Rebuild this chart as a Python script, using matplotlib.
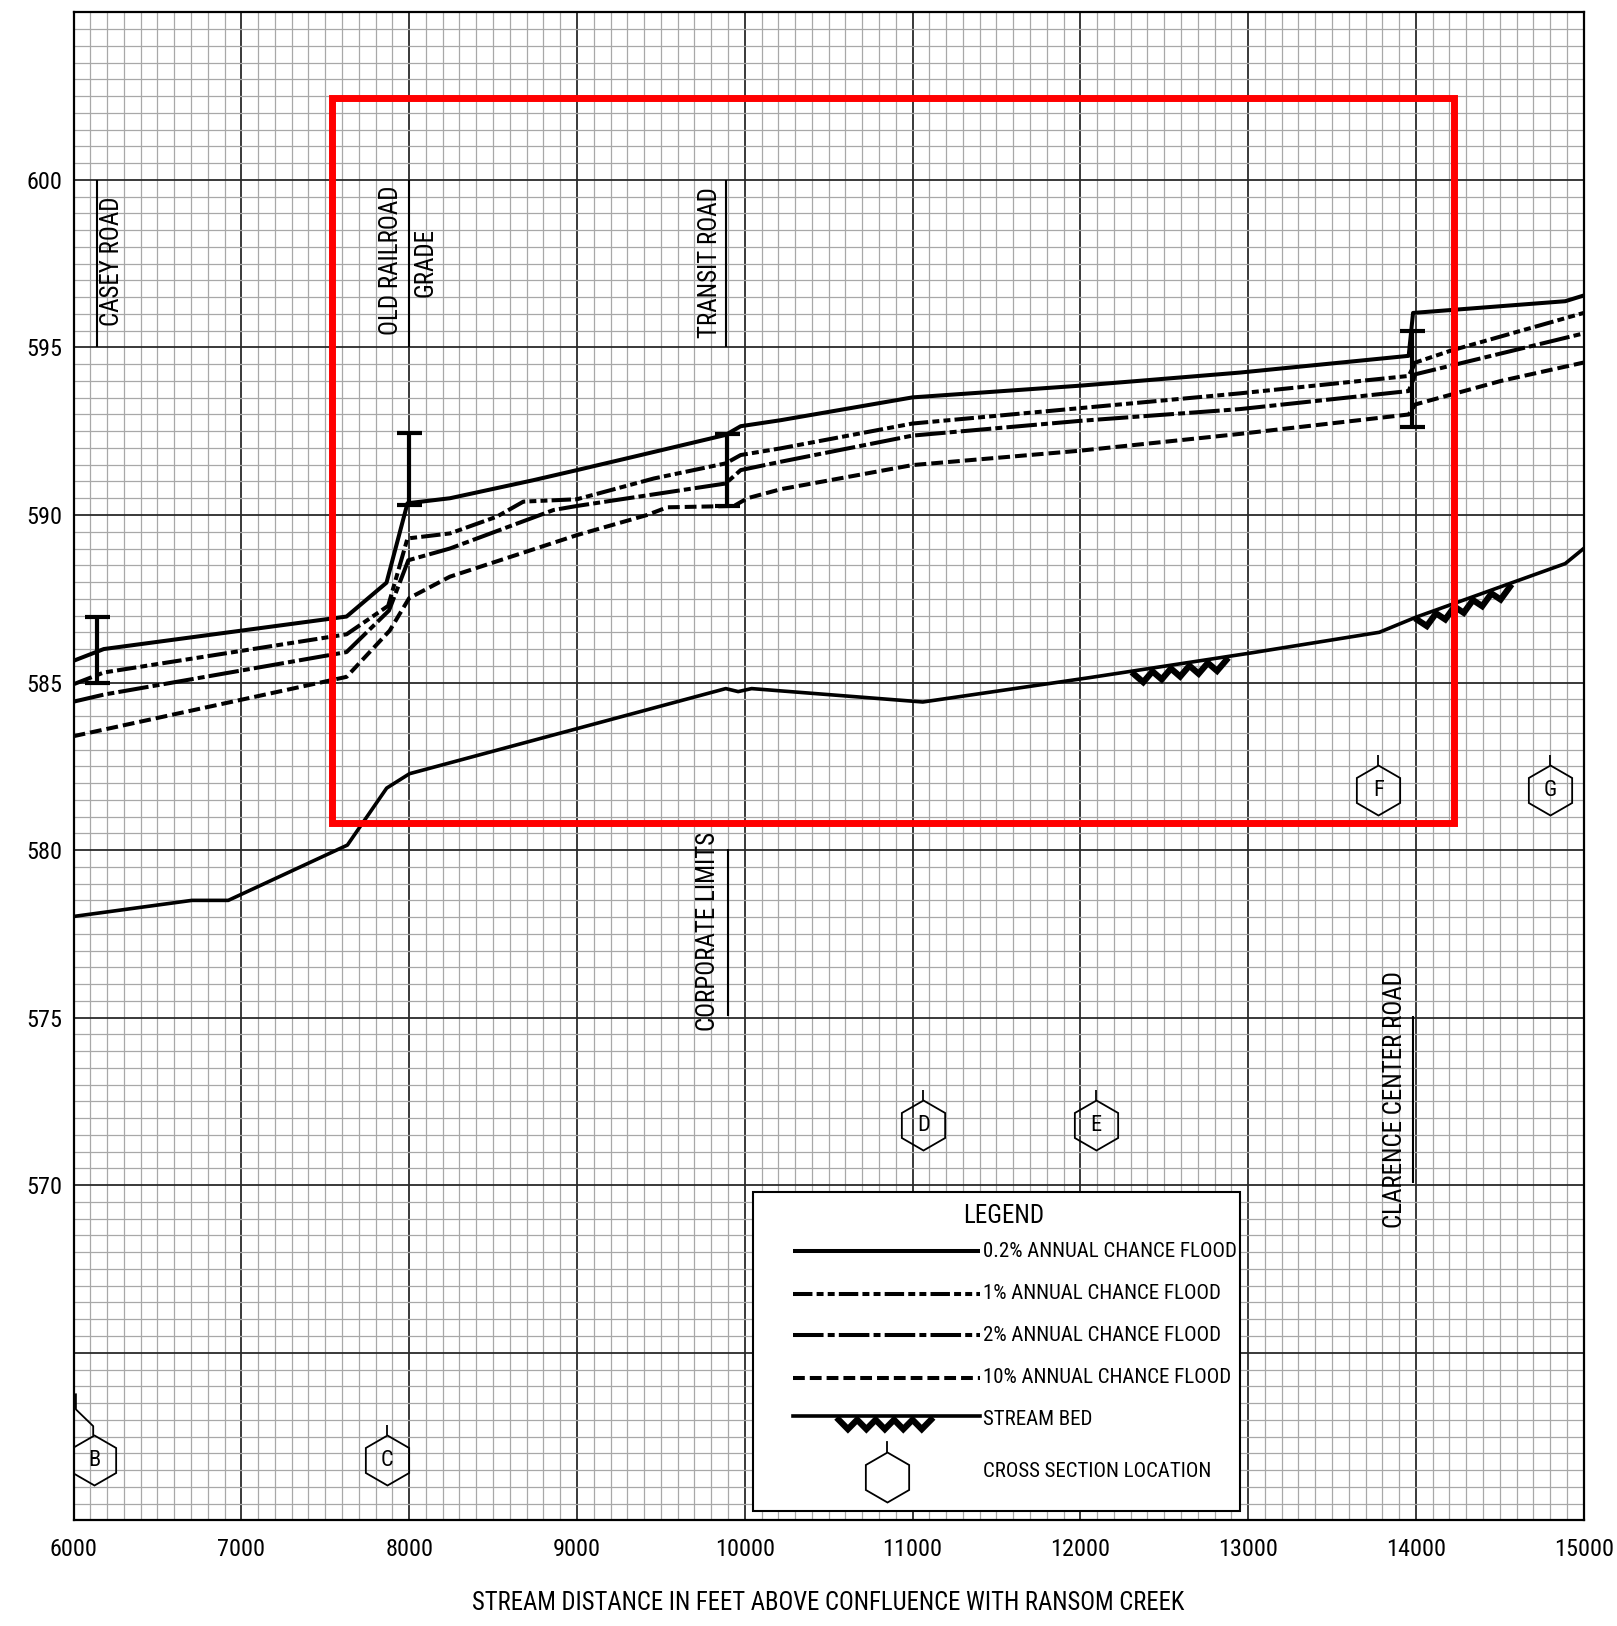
import numpy as np
import matplotlib.pyplot as plt
from matplotlib import font_manager
from matplotlib.patches import Rectangle

# condensed look of the original drawing: use a narrow face if there is one
installed = {f.name for f in font_manager.fontManager.ttflist}
fam = [f for f in ['Liberation Sans Narrow', 'Roboto Condensed', 'Liberation Sans'] if f in installed]
plt.rcParams['font.family'] = fam + ['DejaVu Sans']
plt.rcParams['lines.scale_dashes'] = False

# flood profiles: stream distance (ft) / water surface elevation (ft)
dist_02 = [6000, 6180, 7627, 7865, 7990, 8243, 8741, 9000, 9339, 9886, 9976, 10215,
           11000, 12000, 12950, 13957, 13983, 14890, 15000]
elev_02 = [585.65, 586.0, 586.97, 587.98, 590.35, 590.5, 591.04, 591.34, 591.74, 592.39,
           592.65, 592.83, 593.51, 593.86, 594.25, 594.75, 596.03, 596.38, 596.55]

dist_1 = [6000, 6180, 7627, 7875, 7990, 8243, 8522, 8681, 9000, 9458, 9886, 9976, 10215,
          11000, 12000, 12950, 13957, 13997, 14205, 15000]
elev_1 = [584.95, 585.3, 586.44, 587.29, 589.3, 589.45, 589.95, 590.4, 590.47, 591.09,
          591.54, 591.79, 591.99, 592.73, 593.19, 593.63, 594.15, 594.55, 594.9, 596.03]

dist_2 = [6000, 6180, 7627, 7880, 7995, 8243, 8861, 9000, 9886, 9976, 10215, 11000,
          12000, 12950, 13957, 13997, 15000]
elev_2 = [584.43, 584.64, 585.91, 587.15, 588.65, 589.0, 590.15, 590.27, 590.94, 591.34,
          591.59, 592.37, 592.81, 593.16, 593.7, 594.2, 595.42]

dist_10 = [6000, 7627, 7884, 8000, 8243, 9000, 9418, 9538, 9936, 10016, 10215, 11000,
           12000, 12950, 13957, 13997, 14506, 15000]
elev_10 = [583.4, 585.17, 586.55, 587.52, 588.16, 589.4, 590.0, 590.23, 590.27, 590.5,
           590.77, 591.49, 591.92, 592.42, 593.0, 593.3, 594.0, 594.55]

bed_dist = [6000, 6705, 6922, 7632, 7866, 8002, 9887, 9961, 10041, 11061, 12059, 13000,
            13782, 14000, 14890, 15000]
bed_elev = [578.02, 578.5, 578.5, 580.15, 581.85, 582.28, 584.82, 584.73, 584.82, 584.42,
            585.15, 585.87, 586.5, 586.95, 588.55, 589.0]
bed_hatch = [(12320, 12910), (14010, 14570)]

# structures (vertical bars)
bar_dist = [6137, 8000, 9895, 13977]
bar_low = [585.0, 590.3, 590.26, 592.63]
bar_high = [586.95, 592.45, 592.43, 595.5]

# road / limit labels
road_names = ['CASEY ROAD', 'OLD RAILROAD', 'GRADE', 'TRANSIT ROAD',
              'CORPORATE LIMITS', 'CLARENCE CENTER ROAD']
road_text_x = [6229, 7891, 8095, 9794, 9782, 13873]
road_text_y = [597.56, 597.59, 597.54, 597.54, 577.58, 572.57]
road_line_x = [6137, 8000, 9887, 9900, 13984]
road_line_lo = [595, 595, 595, 575.05, 570.07]
road_line_hi = [600, 600, 600, 580.03, 575.04]

# cross section locations
xs_letters = ['B', 'C', 'D', 'E', 'F', 'G']
xs_dist = [6121, 7869, 11065, 12092, 13775, 14800]
xs_elev = [561.79, 561.79, 571.79, 571.79, 581.79, 581.79]
b_leader_x = [6014, 6014, 6117, 6117]
b_leader_y = [563.76, 563.31, 562.81, 562.55]

# highlighted region
box_x = [7542, 14230]
box_y = [580.8, 602.44]

style_02 = dict(color='black', lw=2.9, solid_capstyle='butt')
style_1 = dict(color='black', lw=2.9, dashes=(14, 3, 5, 3, 5, 3))
style_2 = dict(color='black', lw=2.9, dashes=(22, 3, 5, 3))
style_10 = dict(color='black', lw=2.9, dashes=(8.5, 3.6))


def zigzag(ax, x0, x1, line_x, line_y, step=55, zorder=5):
    xs = np.arange(x0, x1 + 1, step)
    ys = np.interp(xs, line_x, line_y) - np.where(np.arange(len(xs)) % 2, 0.38, 0.1)
    ax.plot(xs, ys, color='black', lw=4.5, zorder=zorder, solid_joinstyle='miter')


fig = plt.figure(figsize=(16.17, 16.26), dpi=100)
ax = fig.add_axes([0.0455, 0.065, 0.9339, 0.9274])
ax.set_xlim(6000, 15000)
ax.set_ylim(560, 605)

ax.set_xticks(np.arange(6000, 15001, 1000))
ax.set_xticks(np.arange(6000, 15001, 100), minor=True)
yt = np.arange(560, 605.1, 5)
ax.set_yticks(yt)
ax.set_yticklabels([f'{v:.0f}' if 570 <= v <= 600 else '' for v in yt])
ax.set_yticks(np.arange(560, 605.1, 0.5), minor=True)
ax.grid(which='minor', color='#a8a8a8', lw=0.9)
ax.grid(which='major', color='#2a2a2a', lw=1.3)
ax.set_axisbelow(True)
ax.tick_params(which='both', length=0, labelsize=17.5)
ax.tick_params(axis='x', pad=13)
ax.tick_params(axis='y', pad=8)
for s in ax.spines.values():
    s.set_linewidth(1.6)
ax.set_xlabel('STREAM DISTANCE IN FEET ABOVE CONFLUENCE WITH RANSOM CREEK',
              fontsize=17.8, labelpad=21)

# profiles
ax.plot(dist_02, elev_02, zorder=4, **style_02)
ax.plot(dist_1, elev_1, zorder=4, **style_1)
ax.plot(dist_2, elev_2, zorder=4, **style_2)
ax.plot(dist_10, elev_10, zorder=4, **style_10)
ax.plot(bed_dist, bed_elev, color='black', lw=2.6, zorder=4)
for x0, x1 in bed_hatch:
    zigzag(ax, x0, x1, bed_dist, bed_elev)

# structure bars
mid = [(a + b) / 2 for a, b in zip(bar_low, bar_high)]
half = [(b - a) / 2 for a, b in zip(bar_low, bar_high)]
ax.errorbar(bar_dist, mid, yerr=half, fmt='none', ecolor='black', elinewidth=3,
            capsize=9, capthick=3, zorder=5)

# roads
ax.vlines(road_line_x, road_line_lo, road_line_hi, color='black', lw=1.5, zorder=3)
for name, tx, ty in zip(road_names, road_text_x, road_text_y):
    ax.text(tx, ty, name, rotation=90, ha='center', va='center', fontsize=18, zorder=6)

# cross sections
ax.plot(xs_dist, xs_elev, 'h', ms=36, mfc='none', mec='black', mew=1.3, zorder=5)
ax.vlines(xs_dist[1:], [e + 0.76 for e in xs_elev[1:]], [e + 1.05 for e in xs_elev[1:]],
          color='black', lw=1.3, zorder=5)
ax.plot(b_leader_x, b_leader_y, color='black', lw=1.3, zorder=5)
for lt, x, y in zip(xs_letters, xs_dist, xs_elev):
    ax.text(x, y, lt, ha='center', va='center', fontsize=16, zorder=6)

# red highlight
ax.add_patch(Rectangle((box_x[0], box_y[0]), box_x[1] - box_x[0], box_y[1] - box_y[0],
                       fill=False, ec='#ff0000', lw=5, zorder=7))

# legend
ax.add_patch(Rectangle((10047, 560.27), 12950 - 10047, 569.79 - 560.27,
                       fc='white', ec='black', lw=1.5, zorder=3))
ax.text(11543, 569.08, 'LEGEND', ha='center', va='center', fontsize=18, zorder=6)
leg_y = [568.03, 566.76, 565.52, 564.26]
leg_labels = ['0.2% ANNUAL CHANCE FLOOD', '1% ANNUAL CHANCE FLOOD',
              '2% ANNUAL CHANCE FLOOD', '10% ANNUAL CHANCE FLOOD']
for y, lab, st in zip(leg_y, leg_labels, [style_02, style_1, style_2, style_10]):
    ax.plot([10289, 11401], [y, y], zorder=6, **st)
    ax.text(11420, y, lab, ha='left', va='center', fontsize=15, zorder=6)
ax.plot([10289, 11401], [563.1, 563.1], color='black', lw=2.6, zorder=6)
zigzag(ax, 10560, 11140, [10289, 11401], [563.1, 563.1], zorder=6)
ax.text(11420, 563.02, 'STREAM BED', ha='left', va='center', fontsize=15, zorder=6)
ax.plot([10845], [561.29], 'h', ms=36, mfc='none', mec='black', mew=1.3, zorder=6)
ax.plot([10845, 10845], [562.05, 562.34], color='black', lw=1.3, zorder=6)
ax.text(11420, 561.45, 'CROSS SECTION LOCATION', ha='left', va='center', fontsize=15,
        zorder=6)

fig.savefig('out.png', dpi=100)
